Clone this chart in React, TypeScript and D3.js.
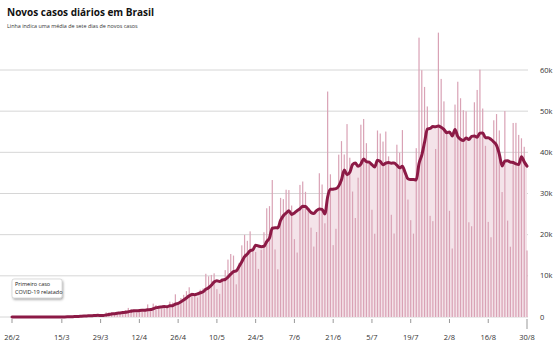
import React from "react";
import * as d3 from "d3";

const START = new Date(2020, 1, 26);

// Daily new cases, 26/2 → 30/8
const dailyCases: number[] = [
  // Feb 26-29
  1, 0, 0, 1,
  // Mar
  0, 0, 0, 1, 5, 5, 6, 6, 0, 9, 18, 25, 21, 23, 79, 34, 57, 137, 193, 283, 224, 418, 345, 310, 232, 482, 502, 487, 352, 323, 1138,
  // Apr
  1119, 1208, 1012, 1222, 852, 926, 1661, 2210, 1930, 1781, 1089, 1442, 1261, 1832, 3058, 2105, 3257, 2917, 2055, 1927, 2498, 2678, 3735, 3503, 5514, 3379, 4613, 5385, 6276, 7218,
  // May
  5919, 5097, 4751, 6633, 6935, 10503, 9888, 10222, 10611, 6760, 5632, 9258, 11385, 13944, 15305, 14919, 7938, 13140, 17408, 19951, 18508, 20803, 16508, 15813, 11687, 16324, 20599, 26417, 26928, 33274, 16409,
  // Jun
  11598, 28936, 28633, 30925, 30830, 27075, 18912, 15654, 32091, 32913, 30412, 25982, 21704, 17110, 20647, 34918, 32188, 22765, 54771, 34666, 17459, 21432, 39436, 42725, 39483, 46860, 38693, 30476, 24052, 33846,
  // Jul
  46712, 48105, 42223, 37923, 26051, 20229, 45305, 44571, 42619, 45048, 39023, 24831, 20286, 41857, 39924, 45403, 34177, 28532, 23529, 20257, 41008, 67860, 59961, 55891, 51147, 24578, 23284, 40816, 69074, 57837, 52383,
  // Aug
  45392, 25800, 16641, 51603, 57152, 53139, 50230, 49970, 23010, 22048, 52160, 55155, 60091, 50644, 41576, 23101, 19373, 47784, 49298, 45323, 30355, 50032, 23421, 17078, 47134, 47161, 44235, 43412, 41350, 16158,
];

const yTicks: number[] = [0, 10000, 20000, 30000, 40000, 50000, 60000];
const yTickLabels: string[] = ["0", "10k", "20k", "30k", "40k", "50k", "60k"];
const xTickDates: string[] = ["2020-02-26", "2020-03-15", "2020-03-29", "2020-04-12", "2020-04-26", "2020-05-10", "2020-05-24", "2020-06-07", "2020-06-21", "2020-07-05", "2020-07-19", "2020-08-02", "2020-08-16", "2020-08-30"];
const xTickLabels: string[] = ["26/2", "15/3", "29/3", "12/4", "26/4", "10/5", "24/5", "7/6", "21/6", "5/7", "19/7", "2/8", "16/8", "30/8"];

const TITLE = "Novos casos diários em Brasil";
const SUBTITLE = "Linha indica uma média de sete dias de novos casos";
const NOTE = ["Primeiro caso", "COVID-19 relatado"];

const FONT = "'Open Sans', 'Noto Sans', sans-serif";

export default function App() {
  const W = 560, H = 355;
  const data = dailyCases.map((v, i) => ({ date: d3.timeDay.offset(START, i), value: v }));
  const avg = data.map((d, i) => {
    const win = dailyCases.slice(Math.max(0, i - 6), i + 1);
    return { date: d.date, value: d3.mean(win) as number };
  });

  const x = d3.scaleTime().domain([data[0].date, data[data.length - 1].date]).range([12, 527]);
  const y = d3.scaleLinear().domain([0, 60000]).range([317, 70]);

  const area = d3.area<{ date: Date; value: number }>().x(d => x(d.date)).y0(y(0)).y1(d => y(d.value)).curve(d3.curveMonotoneX);
  const line = d3.line<{ date: Date; value: number }>().x(d => x(d.date)).y(d => y(d.value)).curve(d3.curveMonotoneX);
  const parse = d3.timeParse("%Y-%m-%d");

  return (
    <svg width={W} height={H} style={{ position: "absolute", left: 0, top: 0, background: "#fff" }} fontFamily={FONT}>
      <defs>
        <filter id="sh" x="-20%" y="-30%" width="140%" height="170%">
          <feDropShadow dx="1" dy="1.5" stdDeviation="1" floodColor="#000" floodOpacity="0.35" />
        </filter>
      </defs>
      <text x={7} y={16} fontSize={10} fontWeight={700} fill="#111">{TITLE}</text>
      <text x={7} y={28} fontSize={5.4} fill="#333">{SUBTITLE}</text>

      {yTicks.map((t, i) => (
        <g key={t}>
          <line x1={0} x2={528} y1={y(t)} y2={y(t)} stroke="#d6d6d6" strokeWidth={1} />
          <text x={540} y={y(t)} dy="0.35em" fontSize={7.5} fill="#333">{yTickLabels[i]}</text>
        </g>
      ))}

      <path d={area(avg) as string} fill="#f4e3e9" />
      {data.map((d, i) => (
        <rect key={i} x={x(d.date) - 0.6} width={1.2} y={y(d.value)} height={y(0) - y(d.value)} fill="#d9a2b5" />
      ))}
      <path d={line(avg) as string} fill="none" stroke="#8c1a46" strokeWidth={3} strokeLinejoin="round" strokeLinecap="round" />

      {xTickDates.map((s, i) => {
        const xx = x(parse(s) as Date);
        const last = i === xTickDates.length - 1;
        return (
          <g key={s}>
            <line x1={xx} x2={xx} y1={319} y2={last ? 329 : 323} stroke="#999" strokeWidth={1} />
            <text x={xx} y={340} textAnchor="middle" fontSize={7.5} fill="#333">{xTickLabels[i]}</text>
          </g>
        );
      })}

      <g filter="url(#sh)">
        <rect x={12} y={279} width={50} height={19} rx={2} fill="#fff" stroke="#bbb" strokeWidth={0.5} />
      </g>
      <text x={15} y={286} fontSize={5.5} fill="#222">{NOTE[0]}</text>
      <text x={15} y={294} fontSize={5.5} fill="#222">{NOTE[1]}</text>
    </svg>
  );
}
